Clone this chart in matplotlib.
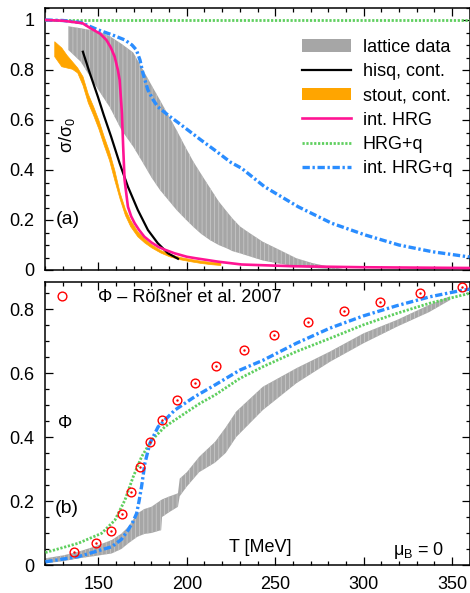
import matplotlib
matplotlib.use("Agg")
import matplotlib.pyplot as plt
from matplotlib.lines import Line2D
from matplotlib.patches import Patch
from matplotlib.ticker import MultipleLocator, FixedLocator, FixedFormatter

plt.rcParams['font.family'] = ['Liberation Sans', 'DejaVu Sans']
plt.rcParams['mathtext.fontset'] = 'custom'
plt.rcParams['mathtext.rm'] = 'Liberation Sans'
plt.rcParams['mathtext.it'] = 'Liberation Sans:italic'
plt.rcParams['hatch.linewidth'] = 0.6

# ---------------- panel (a): sigma / sigma_0 ----------------
# lattice data band
T_lat_a = [133, 140, 150, 156.5, 163, 169.7, 175.3, 180, 184.8, 189.5, 194.2, 199,
           203.6, 208, 213, 218, 222.5, 226, 230, 234, 243, 252.6, 262, 271.4, 281, 288]
lat_a_hi = [0.975, 0.967, 0.955, 0.935, 0.905, 0.87, 0.80, 0.74, 0.68, 0.62, 0.56, 0.495,
            0.435, 0.385, 0.33, 0.275, 0.235, 0.205, 0.175, 0.155, 0.113, 0.08, 0.047,
            0.027, 0.013, 0.005]
lat_a_lo = [0.88, 0.833, 0.72, 0.65, 0.56, 0.493, 0.427, 0.37, 0.32, 0.28, 0.24, 0.205,
            0.173, 0.145, 0.12, 0.1, 0.087, 0.075, 0.067, 0.058, 0.038, 0.025, 0.014,
            0.008, 0.004, 0.002]

# hisq, continuum
T_hisq = [141.2, 145, 149.7, 153, 157.2, 162, 166.7, 172.3, 178, 183.6, 189.3, 195]
s_hisq = [0.873, 0.79, 0.693, 0.62, 0.533, 0.427, 0.333, 0.24, 0.16, 0.107, 0.067, 0.045]

# stout, continuum band
T_stout = [125, 129, 132, 135, 138, 141, 144, 147, 150, 153, 156, 159, 162, 165, 168,
           172, 176, 180, 185, 190, 196, 202, 208, 214, 219]
stout_hi = [0.915, 0.89, 0.86, 0.835, 0.81, 0.775, 0.705, 0.655, 0.60, 0.535, 0.475, 0.40,
            0.31, 0.245, 0.20, 0.155, 0.125, 0.102, 0.08, 0.065, 0.052, 0.044, 0.037,
            0.032, 0.03]
stout_lo = [0.855, 0.815, 0.81, 0.805, 0.79, 0.74, 0.67, 0.62, 0.565, 0.50, 0.44, 0.36,
            0.285, 0.22, 0.175, 0.135, 0.11, 0.09, 0.07, 0.055, 0.043, 0.035, 0.028,
            0.023, 0.02]

# interacting HRG
T_ihrg = [120, 130, 141, 146, 151, 154.5, 157, 159.2, 161, 162, 163.3, 164, 164.8, 166.7,
          168.5, 170.5, 173, 176, 180, 184, 188, 193, 200, 205, 218, 231, 260, 300, 360]
s_ihrg = [1.0, 0.997, 0.987, 0.965, 0.945, 0.92, 0.89, 0.853, 0.80, 0.76, 0.627, 0.493,
          0.36, 0.253, 0.215, 0.187, 0.16, 0.133, 0.11, 0.092, 0.08, 0.067, 0.053, 0.047,
          0.033, 0.022, 0.015, 0.011, 0.008]

# HRG + quarks (non-interacting)
T_hrgq_a = [120, 360]
s_hrgq_a = [1.0, 1.0]

# interacting HRG + quarks
T_ihrgq_a = [120, 130, 140, 150, 158, 165, 169, 171.5, 173.5, 175.2, 178, 181, 183.6,
             189.3, 195, 200.6, 208, 215.7, 225, 231, 244, 263, 282, 301, 320, 339, 360]
s_ihrgq_a = [1.0, 0.998, 0.99, 0.96, 0.94, 0.92, 0.9, 0.88, 0.84, 0.787, 0.72, 0.68,
             0.653, 0.62, 0.59, 0.56, 0.52, 0.48, 0.43, 0.407, 0.333, 0.253, 0.187, 0.14,
             0.10, 0.073, 0.052]

# ---------------- panel (b): Polyakov loop Phi ----------------
T_lat_b = [120, 130, 139, 148, 157.5, 163, 167, 172, 176, 180, 185.5, 186, 190, 195, 196,
           200, 207, 216, 222, 228, 243, 262, 281, 300, 319, 337, 349]
lat_b_hi = [0.021, 0.03, 0.042, 0.058, 0.078, 0.098, 0.12, 0.161, 0.175, 0.182, 0.203,
            0.205, 0.214, 0.224, 0.27, 0.29, 0.338, 0.385, 0.43, 0.48, 0.557, 0.615,
            0.667, 0.724, 0.766, 0.8125, 0.84]
lat_b_lo = [0.005, 0.012, 0.021, 0.028, 0.036, 0.05, 0.068, 0.088, 0.097, 0.1, 0.109,
            0.15, 0.165, 0.182, 0.215, 0.245, 0.29, 0.32, 0.35, 0.40, 0.484, 0.568, 0.635,
            0.693, 0.745, 0.79, 0.828]

# Roessner et al. 2007
T_ross = [136.3, 148.4, 157.1, 163.1, 168.2, 173.5, 179.1, 185.7, 194.2, 204.6, 216.8,
          232.2, 249.4, 268.3, 288.8, 309.5, 331.7, 355.7]
phi_ross = [0.042, 0.07, 0.107, 0.158, 0.227, 0.305, 0.384, 0.453, 0.516, 0.57, 0.622,
            0.672, 0.718, 0.759, 0.793, 0.822, 0.849, 0.87]

# HRG + quarks
T_hrgq_b = [120, 138.6, 151.8, 159.3, 165, 169.7, 174.4, 180.1, 187.6, 198.9, 207.4,
            215.9, 230, 243.2, 262, 280.9, 299.7, 318.6, 337.4, 360]
phi_hrgq = [0.039, 0.068, 0.099, 0.14, 0.203, 0.276, 0.338, 0.39, 0.432, 0.474, 0.505,
            0.531, 0.583, 0.62, 0.667, 0.708, 0.75, 0.786, 0.818, 0.849]

# interacting HRG + quarks
T_ihrgq_b = [120, 138.6, 157.5, 163, 166.8, 169.5, 171.6, 173, 174.4, 176.3, 179.1, 183.8,
             193.2, 204.5, 215.9, 230, 243.2, 262, 280.9, 299.7, 318.6, 337.4, 356.2, 360]
phi_ihrgq = [0.01, 0.026, 0.057, 0.08, 0.109, 0.135, 0.161, 0.2, 0.245, 0.318, 0.38,
             0.432, 0.484, 0.526, 0.5625, 0.609, 0.64, 0.693, 0.74, 0.778, 0.81, 0.838,
             0.859, 0.862]

GRAY = '#a6a6a6'
GRAY_HATCH = '#c6c6c6'
ORANGE = '#ffa500'
PINK = '#ff1493'
GREEN = '#5fcf5f'
BLUE = '#2a8dff'
DASHDOT = (0, (2.2, 0.8, 0.7, 0.8))
DOTTED = (0, (0.8, 0.6))

fig = plt.figure(figsize=(4.70, 5.93), dpi=100)
W, H = 470.0, 593.0
x0, x1 = 45.4, 469.6
ax1 = fig.add_axes([x0 / W, (H - 270) / H, (x1 - x0) / W, 262.5 / H])
ax2 = fig.add_axes([x0 / W, (H - 565) / H, (x1 - x0) / W, 283.2 / H])

FS = 13

# ---- panel (a)
ax1.fill_between(T_lat_a, lat_a_lo, lat_a_hi, facecolor=GRAY, edgecolor=GRAY_HATCH,
                 linewidth=0, hatch='||||', zorder=1)
ax1.plot(T_hrgq_a, s_hrgq_a, color=GREEN, lw=2.0, ls=DOTTED, zorder=3)
ax1.plot(T_ihrgq_a, s_ihrgq_a, color=BLUE, lw=2.4, ls=DASHDOT, zorder=3)
ax1.fill_between(T_stout, stout_lo, stout_hi, facecolor=ORANGE, edgecolor=ORANGE,
                 linewidth=0.5, zorder=2)
ax1.plot(T_hisq, s_hisq, color='black', lw=1.6, zorder=4)
ax1.plot(T_ihrg, s_ihrg, color=PINK, lw=1.9, zorder=5)

ax1.set_xlim(120, 360)
ax1.set_ylim(0, 1.05)
ax1.yaxis.set_major_locator(FixedLocator([0, 0.2, 0.4, 0.6, 0.8, 1.0]))
ax1.yaxis.set_major_formatter(FixedFormatter(['0', '0.2', '0.4', '0.6', '0.8', '1']))
ax1.tick_params(labelbottom=False)

ax1.text(132.4, 0.54, 'σ/σ$_{0}$', rotation=90, ha='center', va='center',
         fontsize=FS)
ax1.text(132.4, 0.2, '(a)', ha='center', va='center', fontsize=FS + 1)

handles_a = [
    Patch(facecolor=GRAY, edgecolor='none'),
    Line2D([], [], color='black', lw=1.6),
    Patch(facecolor=ORANGE, edgecolor='none'),
    Line2D([], [], color=PINK, lw=1.9),
    Line2D([], [], color=GREEN, lw=2.0, ls=DOTTED),
    Line2D([], [], color=BLUE, lw=2.4, ls=DASHDOT),
]
labels_a = ['lattice data', 'hisq, cont.', 'stout, cont.', 'int. HRG', 'HRG+q',
            'int. HRG+q']
ax1.legend(handles_a, labels_a, loc='upper left', bbox_to_anchor=(0.606, 0.88),
           frameon=False, fontsize=FS, handlelength=2.7, handletextpad=0.65,
           labelspacing=0.4, borderpad=0, borderaxespad=0)

# ---- panel (b)
ax2.fill_between(T_lat_b, lat_b_lo, lat_b_hi, facecolor=GRAY, edgecolor=GRAY_HATCH,
                 linewidth=0, hatch='||||', zorder=1)
ax2.plot(T_hrgq_b, phi_hrgq, color=GREEN, lw=2.0, ls=DOTTED, zorder=3)
ax2.plot(T_ihrgq_b, phi_ihrgq, color=BLUE, lw=2.4, ls=DASHDOT, zorder=4)
ross = ax2.plot(T_ross, phi_ross, ls='none', marker='o', ms=6.3, mfc='none', mec='red',
                mew=1.0, zorder=5)[0]
ax2.plot(T_ross, phi_ross, ls='none', marker='.', ms=1.5, color='red', zorder=5)

ax2.set_xlim(120, 360)
ax2.set_ylim(0, 0.885)
ax2.yaxis.set_major_locator(FixedLocator([0, 0.2, 0.4, 0.6, 0.8]))
ax2.yaxis.set_major_formatter(FixedFormatter(['0', '0.2', '0.4', '0.6', '0.8']))
ax2.xaxis.set_major_locator(FixedLocator([150, 200, 250, 300, 350]))

ax2.text(131, 0.443, 'Φ', ha='center', va='center', fontsize=FS)
ax2.text(132, 0.177, '(b)', ha='center', va='center', fontsize=FS + 1)
ax2.text(241.3, 0.056, 'T [MeV]', ha='center', va='center', fontsize=FS)
ax2.text(345.6, 0.045, 'μ$_{\\mathrm{B}}$ = 0', ha='right', va='center', fontsize=FS)

ax2.legend([ross], ['Φ – Rößner et al. 2007'], loc='upper left',
           bbox_to_anchor=(0.018, 0.975), frameon=False, fontsize=FS, handlelength=1.0,
           handletextpad=1.5, borderpad=0, borderaxespad=0)

for ax in (ax1, ax2):
    ax.xaxis.set_minor_locator(MultipleLocator(10))
    if ax is ax1:
        ax.xaxis.set_major_locator(FixedLocator([150, 200, 250, 300, 350]))
    ax.yaxis.set_minor_locator(MultipleLocator(0.05))
    ax.tick_params(which='both', direction='in', top=True, right=True,
                   labelsize=FS, pad=8, width=0.9)
    ax.tick_params(which='major', length=6)
    ax.tick_params(which='minor', length=3)
    for sp in ax.spines.values():
        sp.set_linewidth(1.1)

fig.savefig('out.png', dpi=100)
